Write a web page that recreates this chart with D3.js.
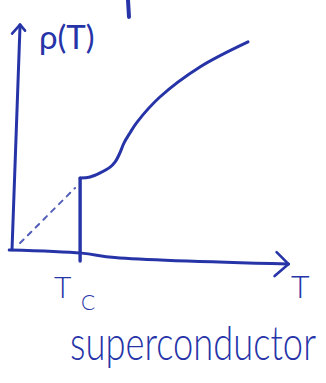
<!DOCTYPE html>
<html>
<head>
<meta charset="utf-8">
<script src="https://cdn.jsdelivr.net/npm/d3@7"></script>
<style>
  html, body { margin: 0; padding: 0; background: #fff; }
  svg { display: block; }
  text { font-family: Lato, "Open Sans", sans-serif; fill: #2634a8; }
</style>
</head>
<body>
<svg id="chart" width="326" height="383"></svg>
<script>
// Resistivity rho(T) of a superconductor (normalised units, 0..100 on both axes)
const critTemp = 24.5;                       // T_c
const normalT   = [24.5, 28.1, 31.7, 35.3, 37.1, 38.8, 40.3, 42.4, 45.0, 53.2, 67.6, 84.9];
const normalRho = [33.0, 33.5, 35.3, 37.9, 40.2, 44.2, 48.7, 53.1, 58.0, 69.2, 82.6, 93.8];
// extrapolated normal-state line below T_c (dashed)
const extrapT   = [2.9, 22.7];
const extrapRho = [4.0, 28.6];
// drop to zero at T_c
const dropT   = [24.5, 24.5];
const dropRho = [33.0, -4.0];
// hand-drawn axes
const xAxisT   = [-1.0, 25.0, 37.0, 99.5];
const xAxisRho = [0.9, -0.5, -2.5, -5.4];
const yAxisT   = [0.0, 2.9];
const yAxisRho = [1.0, 101.5];
const axisLabels = ["ρ(T)", "T", "T", "C", "superconductor"];

const ink = "#2634a8";
const svg = d3.select("#chart");
const x = d3.scaleLinear().domain([0, 100]).range([12, 290]);
const y = d3.scaleLinear().domain([0, 100]).range([252, 28]);

const pts = (xs, ys) => xs.map((v, i) => [x(v), y(ys[i])]);
const straight = d3.line();
const smooth = d3.line().curve(d3.curveCatmullRom.alpha(0.5));

const strokeStyle = sel => sel.attr("fill", "none").attr("stroke", ink)
  .attr("stroke-linecap", "round").attr("stroke-linejoin", "round");

// axes
svg.append("path").attr("d", smooth(pts(xAxisT, xAxisRho))).call(strokeStyle).attr("stroke-width", 3);
svg.append("path").attr("d", straight(pts(yAxisT, yAxisRho))).call(strokeStyle).attr("stroke-width", 3);

// arrow heads
const xEnd = pts(xAxisT, xAxisRho).slice(-1)[0];
svg.append("path").attr("d", straight([[xEnd[0] - 12, xEnd[1] - 12], xEnd, [xEnd[0] - 14, xEnd[1] + 12]]))
  .call(strokeStyle).attr("stroke-width", 2.6);
const yEnd = pts(yAxisT, yAxisRho).slice(-1)[0];
svg.append("path").attr("d", straight([[yEnd[0] - 8, yEnd[1] + 9], yEnd, [yEnd[0] + 5, yEnd[1] + 6]]))
  .call(strokeStyle).attr("stroke-width", 2.6);

// extrapolation, dashed
svg.append("path").attr("d", straight(pts(extrapT, extrapRho))).call(strokeStyle)
  .attr("stroke-width", 2).attr("stroke-dasharray", "5 6").attr("opacity", 0.8);

// drop at T_c
svg.append("path").attr("d", straight(pts(dropT, dropRho))).call(strokeStyle).attr("stroke-width", 3.4);

// normal-state resistivity
svg.append("path").attr("d", smooth(pts(normalT, normalRho))).call(strokeStyle).attr("stroke-width", 3);

// stray stroke at the top edge
svg.append("path").attr("d", straight([[128, 0], [129, 17]])).call(strokeStyle).attr("stroke-width", 4);

// labels
svg.append("text").attr("x", 39).attr("y", 49).attr("font-size", 33).text(axisLabels[0]);
svg.append("text").attr("x", 291).attr("y", 298).attr("font-size", 32).attr("font-weight", 300).text(axisLabels[1]);
svg.append("text").attr("x", x(critTemp) - 26).attr("y", 298).attr("font-size", 30).attr("font-weight", 300).text(axisLabels[2]);
svg.append("text").attr("x", x(critTemp) + 1).attr("y", 310).attr("font-size", 21).attr("font-weight", 300).text(axisLabels[3]);
svg.append("g").attr("transform", "translate(70,360) scale(1,1.22)")
  .append("text").attr("x", 0).attr("y", 0).attr("font-size", 38).attr("font-weight", 300)
  .attr("textLength", 246).attr("lengthAdjust", "spacingAndGlyphs").text(axisLabels[4]);
</script>
</body>
</html>
